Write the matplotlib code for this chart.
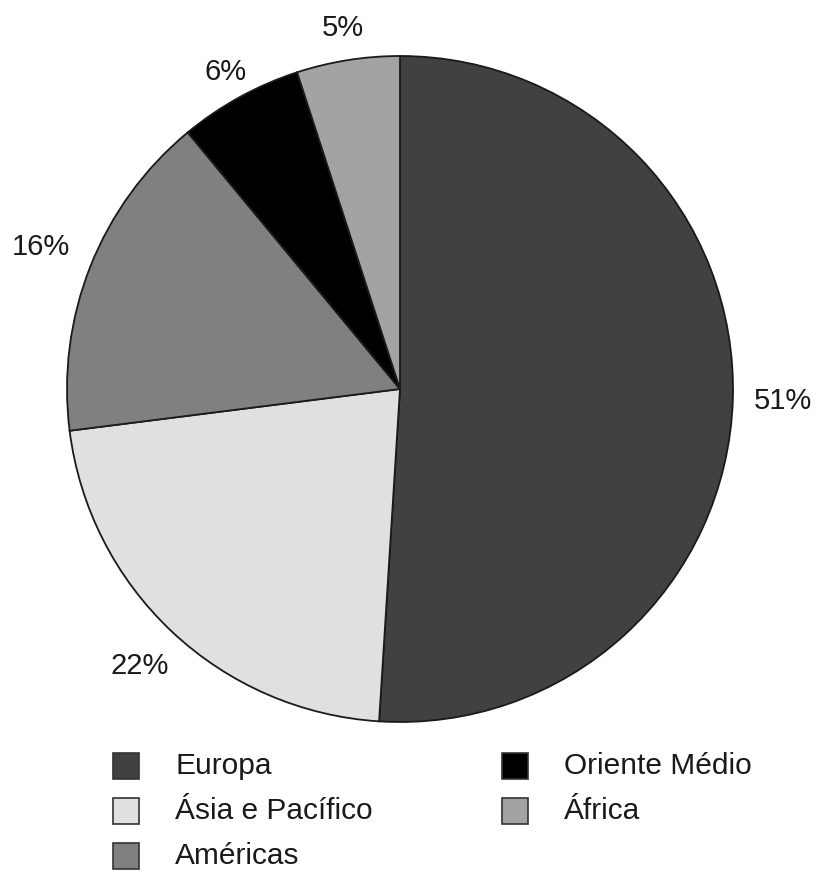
import numpy as np
import matplotlib
matplotlib.use("Agg")
import matplotlib.pyplot as plt
from matplotlib.patches import Rectangle

regions = ["Europa", "Ásia e Pacífico", "Américas", "Oriente Médio", "África"]
shares = [51, 22, 16, 6, 5]
colors = ["#414141", "#e0e0e0", "#808080", "#000000", "#a3a3a3"]

W, H = 817, 877
fig = plt.figure(figsize=(W / 100, H / 100), dpi=100)

# pie axes: centre (400, 389) px, radius 333 px
cx, cy, r = 400, 389, 333
ax = fig.add_axes([(cx - r) / W, (H - cy - r) / H, 2 * r / W, 2 * r / H])

wedges, _ = ax.pie(shares, colors=colors, startangle=90, counterclock=False,
                   radius=1.0, center=(0, 0),
                   wedgeprops=dict(edgecolor="#1a1a1a", linewidth=1.3))
ax.set_xlim(-1, 1)
ax.set_ylim(-1, 1)
ax.set_aspect("equal")
ax.axis("off")

label_dist = [1.15, 1.14, 1.16, 1.088, 1.099]
for w, s, d in zip(wedges, shares, label_dist):
    ang = np.deg2rad((w.theta1 + w.theta2) / 2)
    ax.text(d * np.cos(ang), d * np.sin(ang), f"{s}%", ha="center", va="center",
            fontsize=21, color="#1a1a1a", family="Liberation Sans", clip_on=False)

# legend, two columns filled top-down
col_x = [113, 502]
row_y = [766, 811, 856]
sq = 26
for i, (name, c) in enumerate(zip(regions, colors)):
    col, row = (0, i) if i < 3 else (1, i - 3)
    x, y = col_x[col], row_y[row]
    fig.add_artist(Rectangle((x / W, (H - y - sq / 2) / H), sq / W, sq / H,
                             transform=fig.transFigure, facecolor=c,
                             edgecolor="#333333", linewidth=1.2))
    fig.text((x + 62) / W, (H - y) / H, name, ha="left", va="center",
             fontsize=21.5, color="#1a1a1a", family="Liberation Sans")

fig.savefig("out.png", dpi=100)
